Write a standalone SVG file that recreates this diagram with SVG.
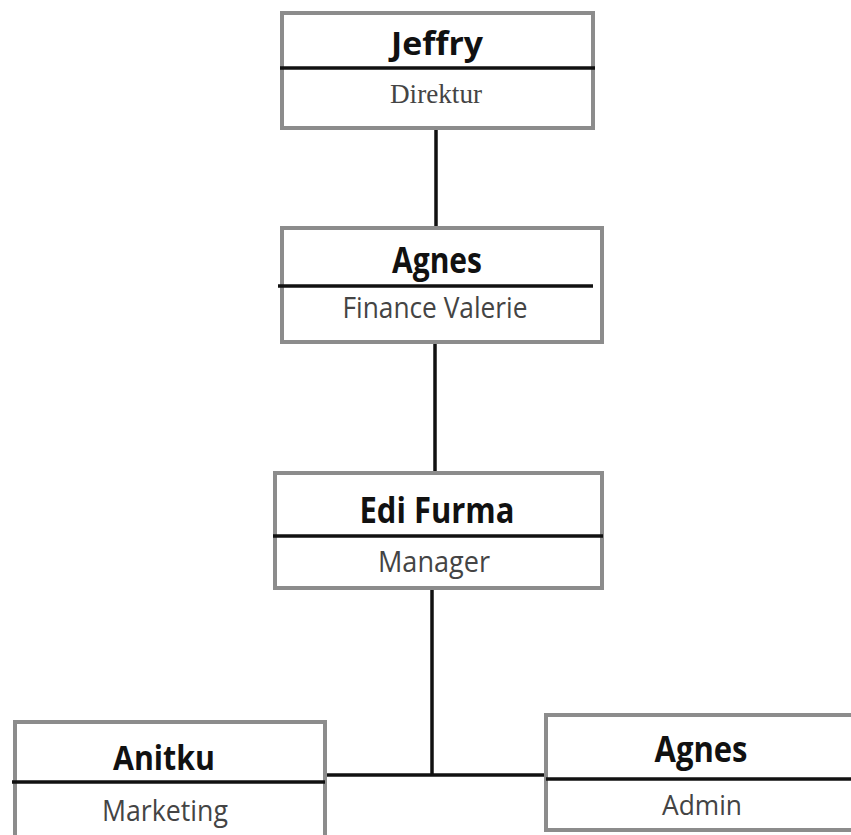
<svg xmlns="http://www.w3.org/2000/svg" width="851" height="835" viewBox="0 0 851 835">
<style>
.box{fill:#ffffff;stroke:#8c8c8c;stroke-width:4}
.div{stroke:#111111;stroke-width:3.5}
.name{font-family:"Open Sans","Liberation Sans",sans-serif;font-weight:bold;fill:#111111;text-anchor:middle}
.role{font-family:"Open Sans","Liberation Sans",sans-serif;fill:#444444;text-anchor:middle}
.conn{stroke:#111111;stroke-width:3.5;fill:none}
</style>
<rect width="851" height="835" fill="#ffffff"/>
<g id="connectors">
<line class="conn" x1="436" y1="128" x2="436" y2="228"/>
<line class="conn" x1="435" y1="342" x2="435" y2="473"/>
<line class="conn" x1="432" y1="588" x2="432" y2="775"/>
<line class="conn" x1="325" y1="775" x2="546" y2="775"/>
</g>
<g id="jeffry">
<rect class="box" x="282" y="13" width="311" height="115"/>
<line class="div" x1="280" y1="68" x2="595" y2="68"/>
<text class="name" x="437" y="55" font-size="32" textLength="92" lengthAdjust="spacingAndGlyphs">Jeffry</text>
<text x="436" y="103" font-family="'Liberation Serif',serif" font-size="27" fill="#444444" text-anchor="middle" textLength="92" lengthAdjust="spacingAndGlyphs">Direktur</text>
</g>
<g id="agnes-finance">
<rect class="box" x="282" y="228" width="320" height="114"/>
<line class="div" x1="278" y1="286" x2="593" y2="286"/>
<text class="name" x="437" y="273" font-size="36" textLength="90" lengthAdjust="spacingAndGlyphs">Agnes</text>
<text class="role" x="435" y="318" font-size="30" textLength="185" lengthAdjust="spacingAndGlyphs">Finance Valerie</text>
</g>
<g id="edi-furma">
<rect class="box" x="275" y="473" width="327" height="115"/>
<line class="div" x1="273" y1="536" x2="603" y2="536"/>
<text class="name" x="437" y="523" font-size="36" textLength="155" lengthAdjust="spacingAndGlyphs">Edi Furma</text>
<text class="role" x="434" y="572" font-size="30" textLength="112" lengthAdjust="spacingAndGlyphs">Manager</text>
</g>
<g id="anitku">
<rect class="box" x="15" y="722" width="310" height="130"/>
<line class="div" x1="12" y1="782" x2="325" y2="782"/>
<text class="name" x="164" y="770" font-size="34" textLength="102" lengthAdjust="spacingAndGlyphs">Anitku</text>
<text class="role" x="165" y="821" font-size="30" textLength="126" lengthAdjust="spacingAndGlyphs">Marketing</text>
</g>
<g id="agnes-admin">
<rect class="box" x="546" y="715" width="314" height="115"/>
<line class="div" x1="546" y1="779" x2="860" y2="779"/>
<text class="name" x="701" y="762" font-size="36" textLength="93" lengthAdjust="spacingAndGlyphs">Agnes</text>
<text class="role" x="702" y="815" font-size="28" textLength="80" lengthAdjust="spacingAndGlyphs">Admin</text>
</g>
</svg>
